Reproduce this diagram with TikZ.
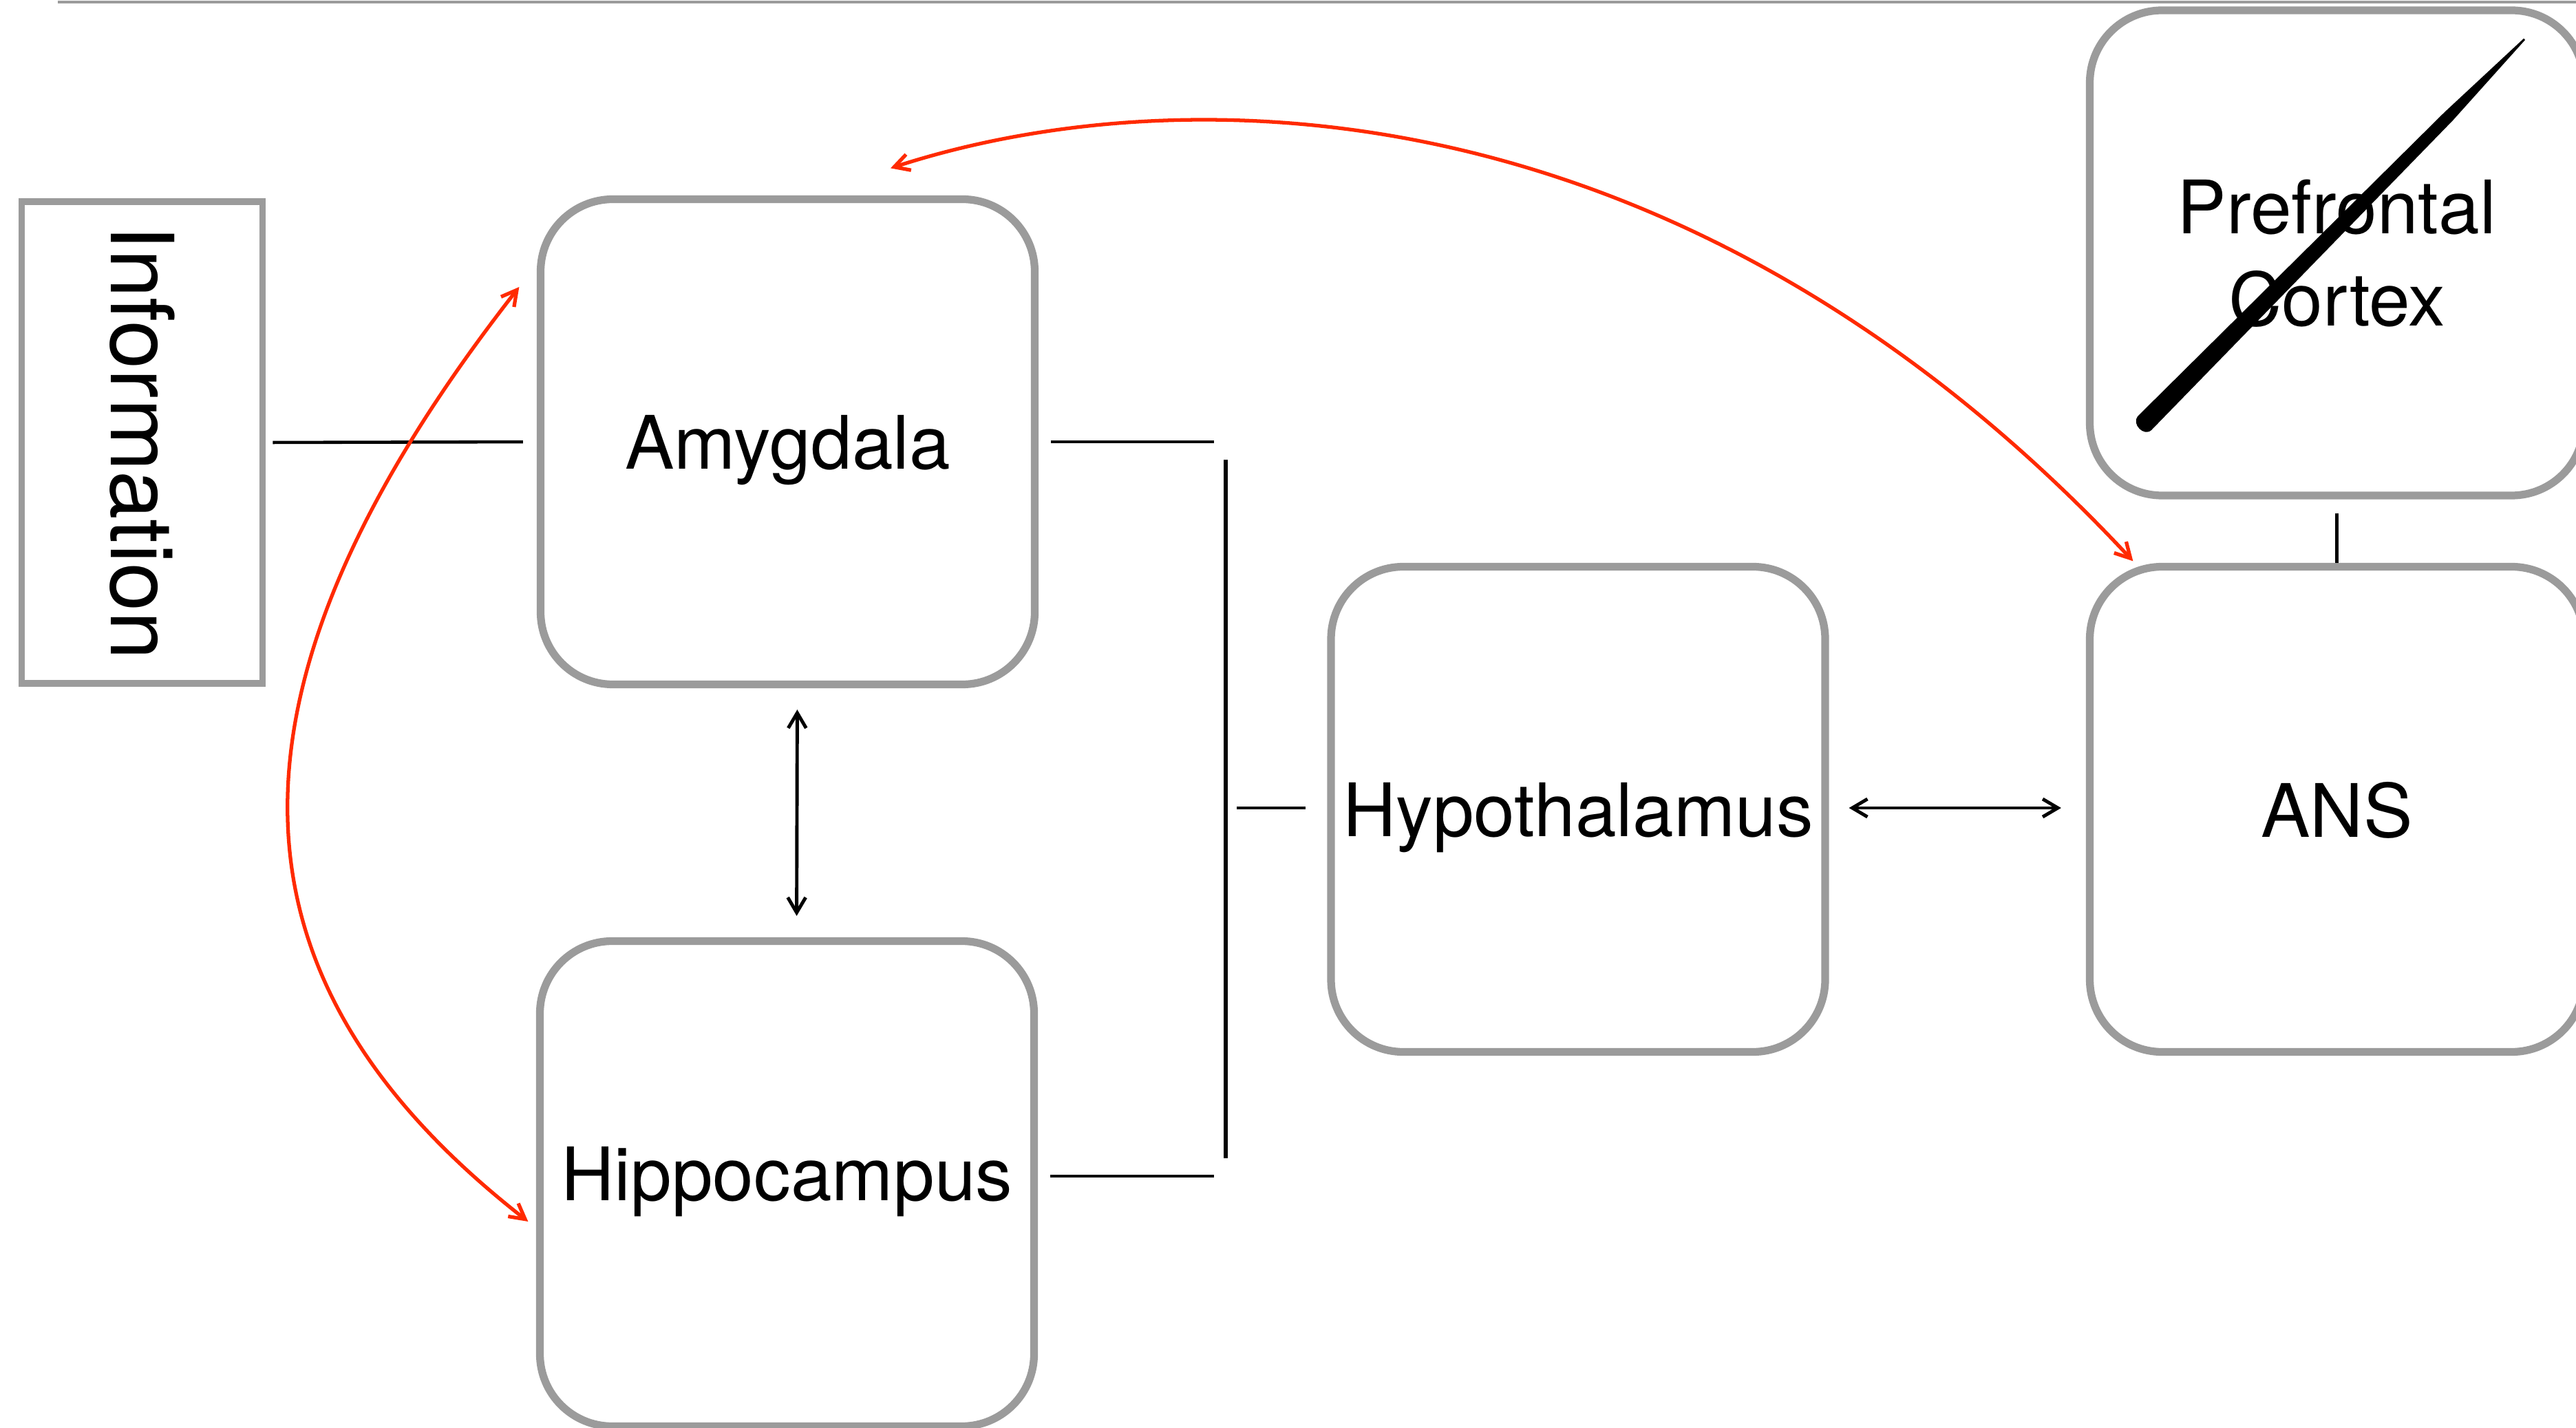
\documentclass[tikz,border=0pt]{standalone}
\usepackage{fontspec}
\setmainfont{TeX Gyre Heros}
\usetikzlibrary{arrows.meta}
\definecolor{boxgray}{HTML}{9B9B9B}
\definecolor{fbred}{HTML}{FF2A00}
\begin{document}
\begin{tikzpicture}[
  regionbox/.style={draw=boxgray,line width=3.2pt,rounded corners=1.05cm,minimum width=7.18cm,minimum height=7.05cm,inner sep=0pt,text depth=0pt,font=\fontsize{30.5}{38}\selectfont,align=center},
  infobox/.style={draw=boxgray,line width=2.8pt,minimum width=3.5cm,minimum height=7.0cm,inner sep=0pt,font=\fontsize{36}{40}\selectfont},
  link/.style={line width=1.3pt},
  bilink/.style={line width=1.4pt,{Straight Barb[length=2.2mm,width=2.6mm]}-{Straight Barb[length=2.2mm,width=2.6mm]}},
  feedback/.style={fbred,line width=1.5pt,{Straight Barb[length=2.2mm,width=2.4mm]}-{Straight Barb[length=2.2mm,width=2.4mm]}}
]
\useasboundingbox (0,0) rectangle (37.43,20.74);
% --- top rule ---
\draw[boxgray,line width=0.9pt] (0.84,20.71) -- (37.43,20.71);
% --- boxes ---
\node[infobox] (info) at (2.065,14.31) {\rotatebox{-90}{Information}};
\node[regionbox] (amyg) at (11.445,14.32) {Amygdala};
\node[regionbox] (hippo) at (11.435,3.54) {\raisebox{0.3cm}{Hippocampus}};
\node[regionbox] (hypo) at (22.93,8.98) {Hypothalamus};
\node[regionbox] (ans) at (33.955,8.98) {ANS};
\node[regionbox] (pfc) at (33.955,17.065) {Prefrontal\\Cortex};
% --- strike-through over prefrontal cortex ---
\fill (31.06,14.69) -- (35.52,19.11) -- (36.67,20.18) -- (36.69,20.16)
  -- (35.64,18.99) -- (31.26,14.49) .. controls (31.15,14.39) and (30.97,14.58) .. cycle;
% --- plain links ---
\coordinate (ja) at (17.64,14.32);
\coordinate (jh) at (17.64,3.65);
\coordinate (bt) at (17.81,14.06);
\coordinate (bb) at (17.81,3.91);
\coordinate (jm) at (17.97,9.00);
\draw[link,shorten <=0.1cm,shorten >=0.2cm] (info.east) -- (amyg.west);
\draw[link,shorten <=0.175cm] (amyg.east) -- (ja);
\draw[link,shorten <=0.175cm] (jh -| hippo.east) -- (jh);
\draw[line width=1.6pt] (bt) -- (bb);
\draw[link,shorten >=0.31cm] (jm) -- (jm -| hypo.west);
\draw[link,shorten <=0.2cm] (pfc.south) -- (ans.north);
% --- two-way arrows ---
\draw[bilink,shorten <=0.31cm,shorten >=0.31cm] ([xshift=0.14cm]amyg.south) -- ([xshift=0.14cm]hippo.north);
\draw[bilink,shorten <=0.29cm,shorten >=0.36cm] ([yshift=0.02cm]hypo.east) -- ([yshift=0.02cm]ans.west);
% --- red feedback loops ---
\draw[feedback] ([shift={(1.495,0.395)}]amyg.north) .. controls +(18:4.4) and +(133:9.6) .. ([shift={(0.685,0.025)}]ans.north west);
\draw[feedback] ([shift={(-0.255,2.25)}]amyg.west) .. controls +(232:7.74) and +(142:5.5) .. ([shift={(-0.115,-0.55)}]hippo.west);
\end{tikzpicture}
\end{document}
